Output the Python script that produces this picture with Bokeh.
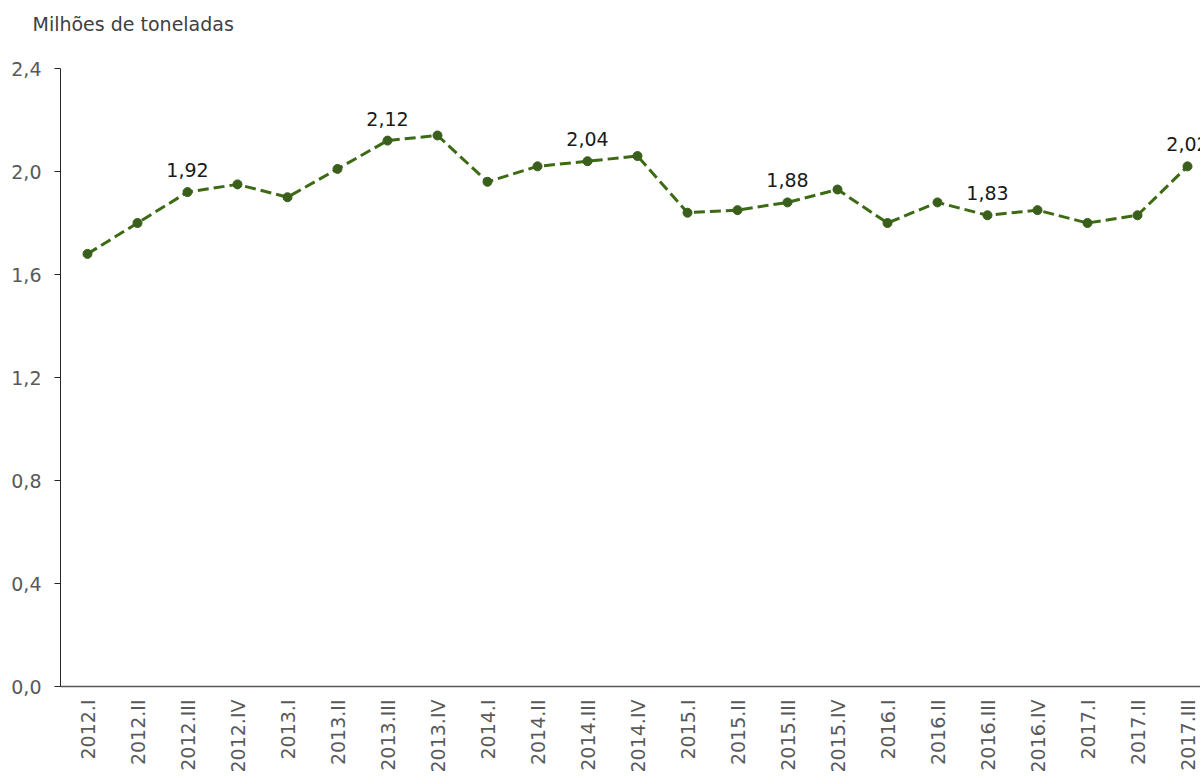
import math
from bokeh.plotting import figure
from bokeh.models import Range1d, FixedTicker, CustomJSTickFormatter, ColumnDataSource, Title
from bokeh.core.properties import value
from bokeh.embed import file_html
from bokeh.resources import INLINE

categories = ["2012.I", "2012.II", "2012.III", "2012.IV",
              "2013.I", "2013.II", "2013.III", "2013.IV",
              "2014.I", "2014.II", "2014.III", "2014.IV",
              "2015.I", "2015.II", "2015.III", "2015.IV",
              "2016.I", "2016.II", "2016.III", "2016.IV",
              "2017.I", "2017.II", "2017.III"]
values = [1.68, 1.80, 1.92, 1.95,
          1.90, 2.01, 2.12, 2.14,
          1.96, 2.02, 2.04, 2.06,
          1.84, 1.85, 1.88, 1.93,
          1.80, 1.88, 1.83, 1.85,
          1.80, 1.83, 2.02]
y_ticks = [0.0, 0.4, 0.8, 1.2, 1.6, 2.0, 2.4]
title_text = "Milhões de toneladas"

FONT = "DejaVu Sans"
GREEN = "#3d6b14"
MARK = "#3a5f1c"

xs = list(range(len(categories)))
src = ColumnDataSource(dict(x=xs, y=values))

lab_idx = [i for i, c in enumerate(categories) if c.endswith(".III")]
lab_src = ColumnDataSource(dict(
    x=lab_idx,
    y=[values[i] for i in lab_idx],
    t=[f"{values[i]:.2f}".replace(".", ",") for i in lab_idx],
))

W, H = 1200, 776
p = figure(width=W, height=H, output_backend="svg", toolbar_location=None,
           x_range=Range1d(-0.54, 22.26), y_range=Range1d(0, 2.4),
           min_border_left=60, min_border_right=0, min_border_top=68,
           min_border_bottom=90)
p.title_location = None
p.outline_line_color = None
p.xgrid.visible = False
p.ygrid.visible = False
p.background_fill_color = "white"
p.border_fill_color = "white"

# spacer (closest to the frame), then the real title above it
spacer = Title(text=" ", text_font_size="1px", standoff=31)
real_title = Title(text=title_text, text_font=FONT, text_font_size="19px",
                   text_font_style="normal", text_color="#404040",
                   align="left", offset=-28, standoff=0)
p.add_layout(spacer, "above")
p.add_layout(real_title, "above")

p.line("x", "y", source=src, line_color=GREEN, line_width=3, line_dash="11 5")
p.scatter("x", "y", source=src, size=9, fill_color=MARK, line_color=MARK)

p.text("x", "y", text="t", source=lab_src, text_font=value(FONT),
       text_font_size="19px", text_color="#1a1a1a", text_align="center",
       text_baseline="alphabetic", y_offset=-22)

# y axis
yax = p.yaxis[0]
yax.ticker = FixedTicker(ticks=y_ticks)
yax.formatter = CustomJSTickFormatter(code="return tick.toFixed(1).replace('.', ',');")
yax.axis_line_color = "#262626"
yax.axis_line_width = 1
yax.major_tick_line_color = "#262626"
yax.major_tick_out = 6
yax.major_tick_in = 0
yax.minor_tick_line_color = None
yax.major_label_text_font = FONT
yax.major_label_text_font_size = "19px"
yax.major_label_text_color = "#595959"
yax.major_label_standoff = 13

# x axis
xax = p.xaxis[0]
xax.ticker = FixedTicker(ticks=xs)
xax.major_label_overrides = {i: c for i, c in enumerate(categories)}
xax.major_label_orientation = math.pi / 2
xax.axis_line_color = "#595959"
xax.axis_line_width = 1.5
xax.major_tick_line_color = None
xax.major_tick_out = 0
xax.major_tick_in = 0
xax.minor_tick_line_color = None
xax.major_label_text_font = FONT
xax.major_label_text_font_size = "19px"
xax.major_label_text_color = "#595959"
xax.major_label_standoff = 13

open("out.html", "w").write(file_html(p, INLINE))
